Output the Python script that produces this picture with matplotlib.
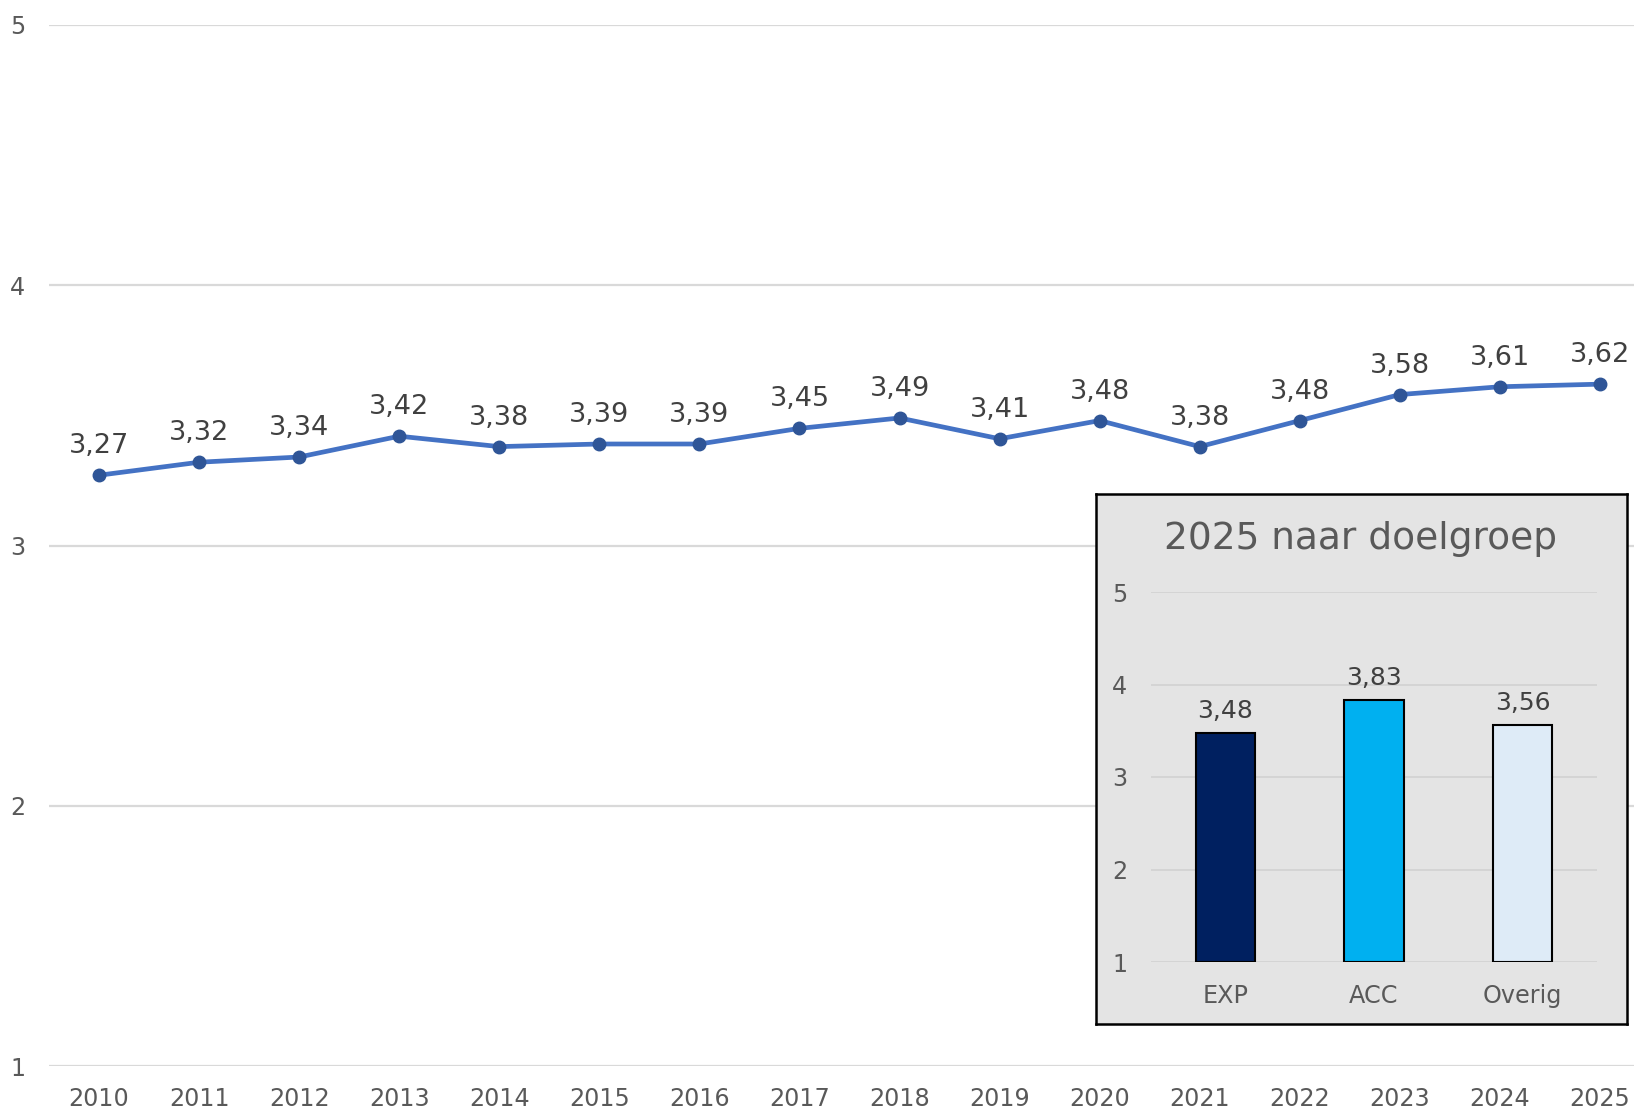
import matplotlib.pyplot as plt

years = [str(y) for y in range(2010, 2026)]
scores = [3.27, 3.32, 3.34, 3.42, 3.38, 3.39, 3.39, 3.45, 3.49,
          3.41, 3.48, 3.38, 3.48, 3.58, 3.61, 3.62]

groups = ["EXP", "ACC", "Overig"]
group_scores = [3.48, 3.83, 3.56]
group_colors = ["#002060", "#00B0F0", "#DEEBF7"]

plt.rcParams['font.family'] = ['DejaVu Sans']
W, H = 1634, 1111
fig = plt.figure(figsize=(W / 100, H / 100), dpi=100)


def fx(px):
    return px / W


def fy(px):
    return 1 - px / H


def nl(v):
    return "{:.2f}".format(v).replace(".", ",")


# main line chart
ax = fig.add_axes([fx(49), fy(1066), fx(1634 - 49), fy(25) - fy(1066)])
x = list(range(len(years)))
ax.plot(x, scores, color="#4472C4", linewidth=3.4, marker="o", markersize=9,
        markerfacecolor="#2F5597", markeredgecolor="#2F5597", zorder=3)
for xi, v in zip(x, scores):
    ax.annotate(nl(v), (xi, v), xytext=(0, 16), textcoords="offset pixels",
                ha="center", va="bottom", fontsize=19.5, color="#404040")
ax.set_xlim(-0.5, 15.34)
ax.set_ylim(1, 5)
ax.set_yticks([1, 2, 3, 4, 5])
ax.set_xticks(x)
ax.set_xticklabels(years)
ax.grid(axis="y", color="#D9D9D9", linewidth=1.6)
ax.set_axisbelow(True)
for s in ax.spines.values():
    s.set_visible(False)
ax.tick_params(length=0, labelsize=17.2, labelcolor="#595959")
ax.tick_params(axis="y", pad=17)
ax.tick_params(axis="x", pad=15)

# inset box
bg = fig.add_axes([fx(1096), fy(1024), fx(1627 - 1096), fy(494) - fy(1024)])
bg.set_facecolor("#E4E4E4")
bg.set_xticks([])
bg.set_yticks([])
for s in bg.spines.values():
    s.set_color("black")
    s.set_linewidth(1.8)
fig.text(fx(1361), fy(539), "2025 naar doelgroep", ha="center", va="center",
         fontsize=27, color="#595959")

ins = fig.add_axes([fx(1151), fy(962), fx(1597 - 1151), fy(592) - fy(962)])
ins.set_facecolor("#E4E4E4")
gx = list(range(len(groups)))
ins.bar(gx, [v - 1 for v in group_scores], bottom=1, width=0.4,
        color=group_colors, edgecolor="black", linewidth=1.5, zorder=3)
for xi, v in zip(gx, group_scores):
    ins.annotate(nl(v), (xi, v), xytext=(0, 10), textcoords="offset pixels",
                 ha="center", va="bottom", fontsize=18, color="#404040")
ins.set_xlim(-0.5, 2.5)
ins.set_ylim(1, 5)
ins.set_yticks([1, 2, 3, 4, 5])
ins.set_xticks(gx)
ins.set_xticklabels(groups)
ins.grid(axis="y", color="#D4D4D4", linewidth=1.4)
ins.set_axisbelow(True)
for s in ins.spines.values():
    s.set_visible(False)
ins.tick_params(length=0, labelsize=17.2, labelcolor="#595959")
ins.tick_params(axis="y", pad=17)
ins.tick_params(axis="x", pad=16)

fig.savefig("out.png", dpi=100, facecolor="white")
